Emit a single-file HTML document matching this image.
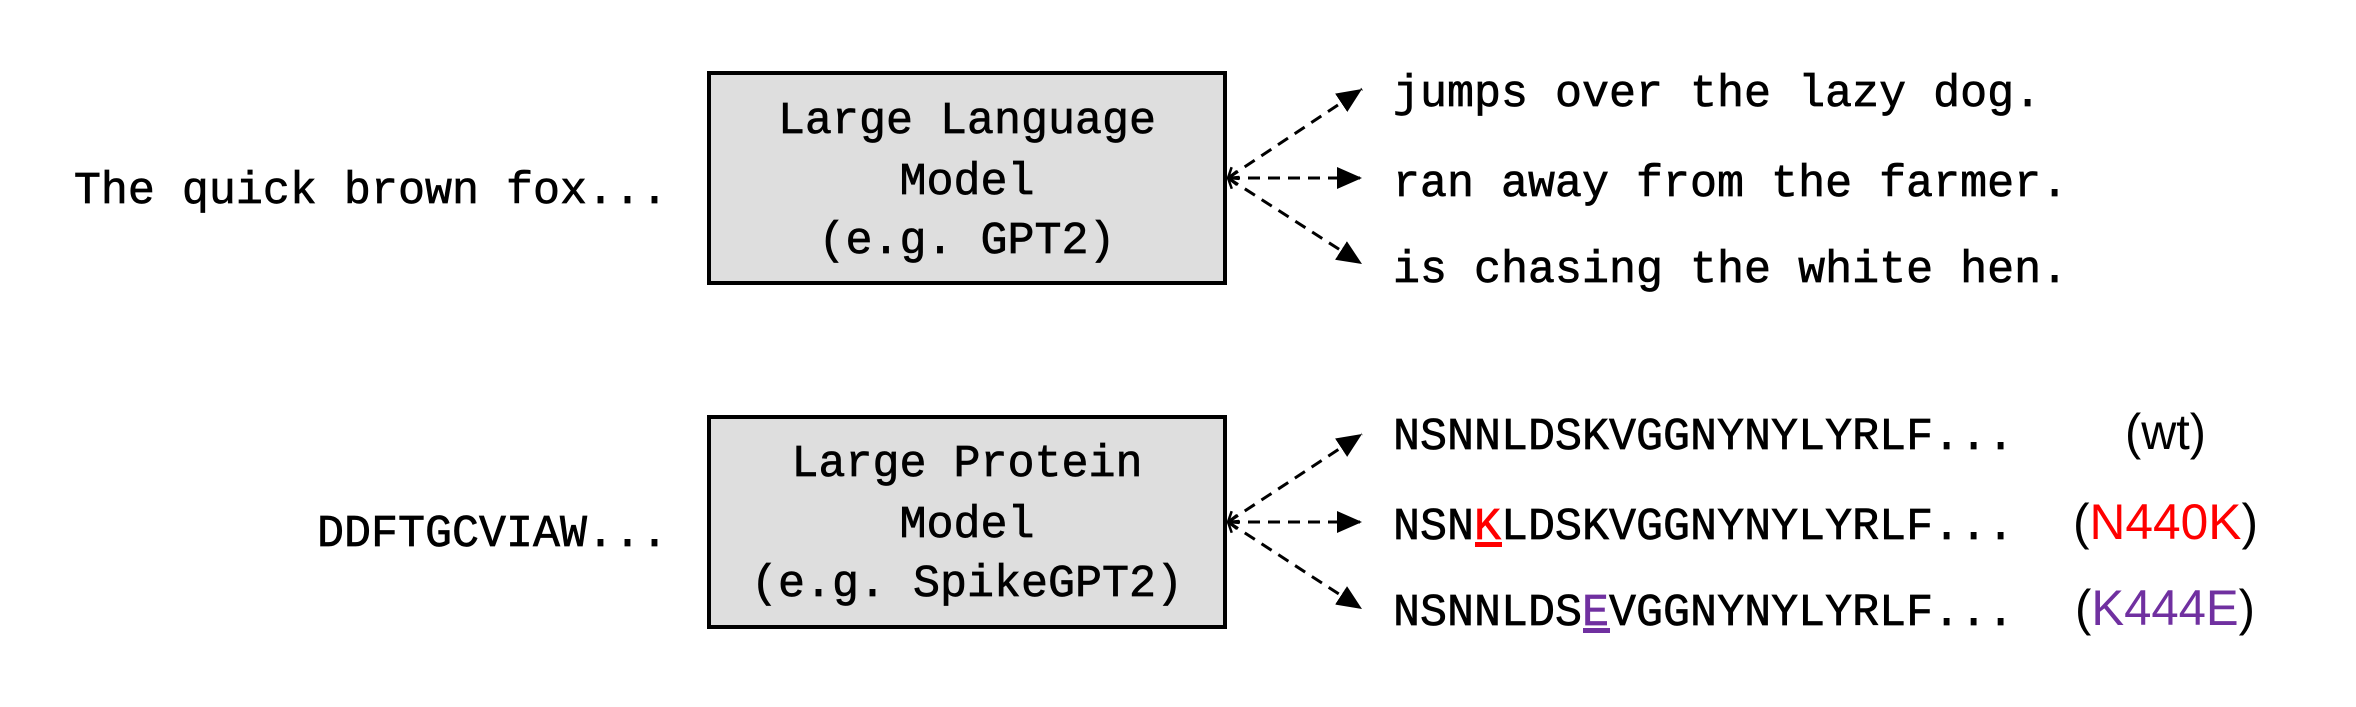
<!DOCTYPE html>
<html><head><meta charset="utf-8"><style>
html,body{margin:0;padding:0;background:#fff;}
svg{display:block;}
.m{font-family:"Liberation Mono",monospace;font-size:45px;fill:#000;stroke:#000;stroke-width:0.7;}
.s{font-family:"Liberation Sans",sans-serif;font-size:50px;}
</style></head><body>
<svg width="2356" height="707" viewBox="0 0 2356 707" xmlns="http://www.w3.org/2000/svg">
<defs>
<marker id="ah" markerUnits="userSpaceOnUse" markerWidth="26" markerHeight="22" refX="25" refY="11" orient="auto">
<path d="M0,0 L25,11 L0,22 Z" fill="#000"/></marker>
<marker id="as" markerUnits="userSpaceOnUse" markerWidth="12" markerHeight="16" refX="1" refY="8" orient="auto">
<path d="M10,1 L1,8 L10,15" fill="none" stroke="#000" stroke-width="2.5"/></marker>
</defs>
<rect x="709" y="73" width="516" height="210" fill="#dedede" stroke="#000" stroke-width="4"/>
<rect x="709" y="417" width="516" height="210" fill="#dedede" stroke="#000" stroke-width="4"/>
<g class="m" text-anchor="middle">
<text x="967" y="133">Large Language</text>
<text x="967" y="194">Model</text>
<text x="967" y="253">(e.g. GPT2)</text>
<text x="967" y="476">Large Protein</text>
<text x="967" y="537">Model</text>
<text x="967" y="596">(e.g. SpikeGPT2)</text>
</g>
<g class="m" text-anchor="end">
<text x="668" y="203">The quick brown fox...</text>
<text x="668" y="546">DDFTGCVIAW...</text>
</g>
<g stroke="#000" stroke-width="3" stroke-dasharray="12,8" fill="none" marker-end="url(#ah)" marker-start="url(#as)">
<line x1="1228" y1="178" x2="1362" y2="89"/>
<line x1="1228" y1="178" x2="1362" y2="178"/>
<line x1="1228" y1="178" x2="1362" y2="264"/>
<line x1="1228" y1="522" x2="1362" y2="434"/>
<line x1="1228" y1="522" x2="1362" y2="522"/>
<line x1="1228" y1="522" x2="1362" y2="609"/>
</g>
<g class="m">
<text x="1393" y="106">jumps over the lazy dog.</text>
<text x="1393" y="196">ran away from the farmer.</text>
<text x="1393" y="282">is chasing the white hen.</text>
<text x="1393" y="449">NSNNLDSKVGGNYNYLYRLF...</text>
<text x="1393" y="539">NSN<tspan fill="#ff0000" stroke="#ff0000">K</tspan>LDSKVGGNYNYLYRLF...</text>
<text x="1393" y="625">NSNNLDS<tspan fill="#7030a0" stroke="#7030a0">E</tspan>VGGNYNYLYRLF...</text>
</g>
<rect x="1475" y="542" width="27" height="5" fill="#ff0000"/>
<rect x="1583" y="628" width="27" height="5" fill="#7030a0"/>
<text class="s" x="2125" y="449" textLength="81" lengthAdjust="spacingAndGlyphs">(wt)</text>
<text class="s" x="2073" y="539" textLength="185" lengthAdjust="spacingAndGlyphs">(<tspan fill="#ff0000">N440K</tspan>)</text>
<text class="s" x="2075" y="625" textLength="180" lengthAdjust="spacingAndGlyphs">(<tspan fill="#7030a0">K444E</tspan>)</text>
</svg>
</body></html>
